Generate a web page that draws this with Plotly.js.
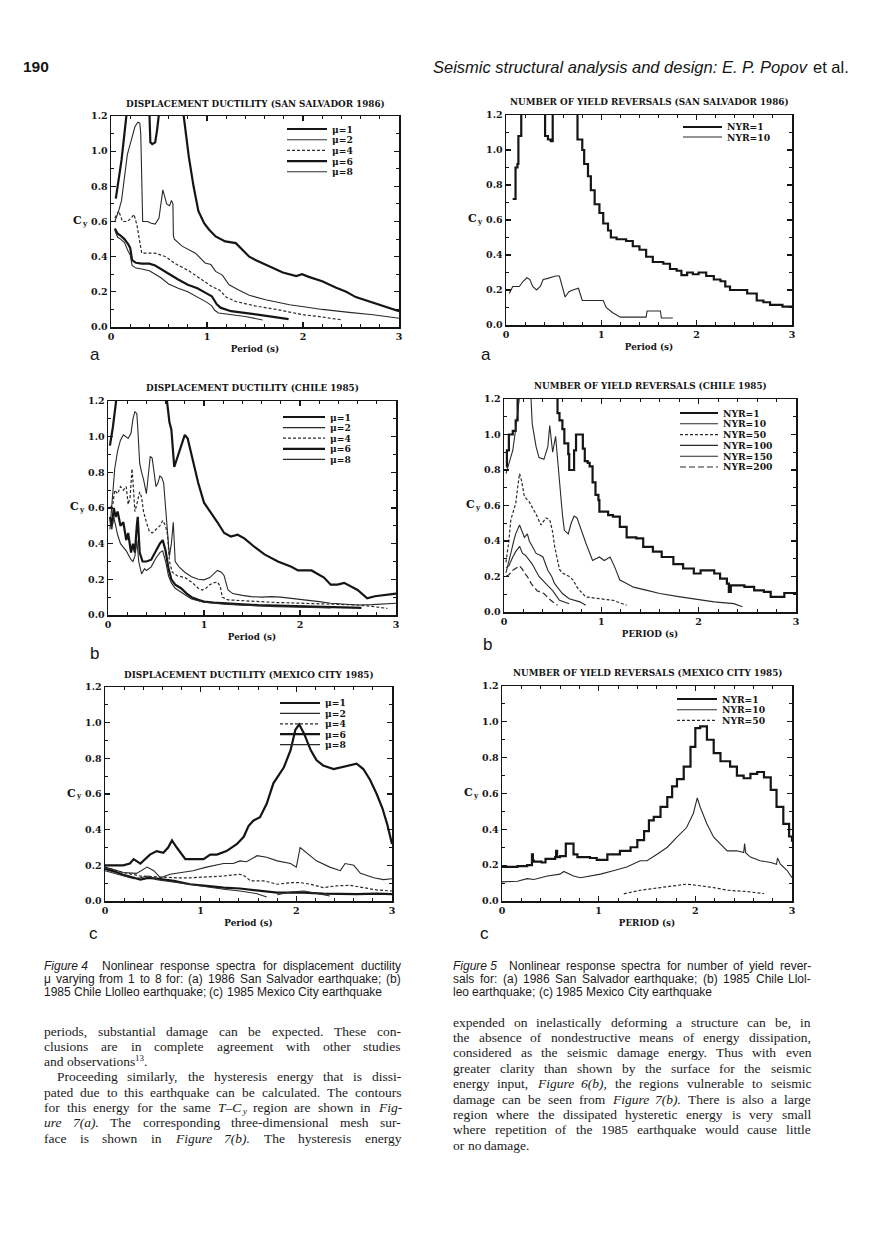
<!DOCTYPE html>
<html><head><meta charset="utf-8">
<script src="https://cdn.plot.ly/plotly-3.0.1.min.js"></script>
<style>html,body{margin:0;padding:0;background:#fff}#page{width:876px;height:1254px}</style>
</head><body><div id="page"></div>
<script>
// ---------------- DATA ----------------
// Figure 4(a) San Salvador 1986 – displacement ductility
const ss_mu1_x = [0.05,0.08,0.11,0.14,0.17,0.25,0.38,0.40,0.41,0.43,0.46,0.48,0.50,0.55,0.70,0.75,0.78,0.81,0.86,0.91,0.97,1.02,1.09,1.19,1.30,1.37,1.44,1.51,1.65,1.79,1.93,1.99,2.06,2.20,2.34,2.45,2.55,2.69,2.83,3.00];
const ss_mu1_y = [0.73,0.84,0.95,1.10,1.25,1.45,1.40,1.22,1.05,1.04,1.05,1.12,1.25,1.45,1.45,1.22,1.08,0.97,0.80,0.66,0.59,0.555,0.515,0.487,0.477,0.44,0.40,0.38,0.345,0.31,0.29,0.30,0.285,0.26,0.225,0.20,0.17,0.145,0.12,0.09];
const ss_mu2_x = [0.04,0.08,0.11,0.14,0.17,0.21,0.25,0.28,0.30,0.31,0.32,0.33,0.38,0.42,0.46,0.50,0.52,0.54,0.56,0.58,0.61,0.63,0.645,0.65,0.66,0.74,0.88,0.98,1.04,1.09,1.16,1.23,1.33,1.44,1.61,1.86,1.99,2.20,2.48,2.73,3.00];
const ss_mu2_y = [0.60,0.66,0.72,0.85,0.98,1.06,1.14,1.165,1.16,1.10,0.85,0.60,0.60,0.59,0.585,0.62,0.70,0.78,0.74,0.70,0.69,0.72,0.70,0.52,0.50,0.46,0.42,0.364,0.355,0.316,0.295,0.24,0.21,0.18,0.155,0.127,0.117,0.10,0.083,0.07,0.05];
const ss_mu4_x = [0.04,0.08,0.12,0.17,0.21,0.24,0.27,0.30,0.32,0.40,0.46,0.57,0.67,0.81,0.95,1.05,1.13,1.20,1.30,1.50,1.72,2.00,2.20,2.41];
const ss_mu4_y = [0.62,0.66,0.60,0.60,0.62,0.64,0.58,0.48,0.42,0.42,0.42,0.40,0.36,0.32,0.27,0.23,0.21,0.17,0.145,0.12,0.10,0.07,0.057,0.04];
const ss_mu6_x = [0.04,0.07,0.10,0.14,0.18,0.20,0.22,0.26,0.32,0.40,0.46,0.52,0.60,0.70,0.80,0.90,1.00,1.05,1.10,1.14,1.25,1.40,1.60,1.85];
const ss_mu6_y = [0.56,0.53,0.52,0.50,0.47,0.45,0.38,0.365,0.36,0.36,0.35,0.33,0.30,0.27,0.24,0.22,0.19,0.175,0.13,0.11,0.09,0.08,0.065,0.045];
const ss_mu8_x = [0.04,0.07,0.10,0.14,0.18,0.20,0.22,0.26,0.32,0.40,0.46,0.52,0.60,0.70,0.80,0.90,1.00,1.05,1.08,1.12,1.25,1.40,1.58];
const ss_mu8_y = [0.55,0.51,0.50,0.48,0.43,0.41,0.35,0.335,0.33,0.32,0.30,0.28,0.245,0.22,0.20,0.17,0.14,0.12,0.095,0.08,0.07,0.06,0.04];

// Figure 5(a) San Salvador 1986 – number of yield reversals
const ss_nyr1_x = [0.07,0.10,0.12,0.13,0.16,0.41,0.44,0.47,0.49,0.75,0.80,0.82,0.86,0.89,0.93,0.98,1.02,1.07,1.10,1.16,1.26,1.33,1.40,1.47,1.54,1.65,1.72,1.79,1.84,1.90,1.96,2.02,2.10,2.18,2.25,2.30,2.35,2.45,2.53,2.63,2.70,2.77,2.90,3.00];
const ss_nyr1_y = [0.72,0.90,0.92,1.08,1.40,1.08,1.06,1.05,1.40,1.06,1.00,0.92,0.85,0.77,0.69,0.64,0.58,0.54,0.50,0.49,0.48,0.45,0.43,0.39,0.36,0.35,0.32,0.31,0.285,0.30,0.29,0.30,0.28,0.26,0.25,0.22,0.20,0.20,0.18,0.14,0.13,0.115,0.105,0.10];
const ss_nyr10_x = [0.035,0.07,0.14,0.18,0.22,0.25,0.28,0.32,0.36,0.39,0.43,0.47,0.52,0.56,0.60,0.62,0.66,0.70,0.76,0.78,0.80,1.02,1.05,1.12,1.20,1.47,1.48,1.62,1.63,1.75];
const ss_nyr10_y = [0.18,0.22,0.22,0.25,0.27,0.26,0.22,0.20,0.22,0.26,0.265,0.27,0.28,0.28,0.20,0.16,0.19,0.20,0.21,0.17,0.14,0.14,0.10,0.07,0.045,0.045,0.08,0.08,0.04,0.04];

// Figure 4(b) Chile 1985 – displacement ductility
const ch_mu1_x = [0.02,0.05,0.08,0.10,0.15,0.58,0.61,0.64,0.66,0.69,0.72,0.75,0.78,0.80,0.83,0.88,0.94,1.00,1.08,1.14,1.21,1.28,1.35,1.42,1.53,1.63,1.77,1.91,1.98,2.05,2.12,2.25,2.32,2.39,2.46,2.60,2.70,2.78,2.85,3.00];
const ch_mu1_y = [0.95,1.05,1.18,1.30,1.50,1.50,1.22,1.08,1.04,0.83,0.88,0.93,0.98,1.01,0.99,0.87,0.74,0.63,0.57,0.52,0.46,0.44,0.45,0.43,0.38,0.34,0.30,0.27,0.25,0.25,0.25,0.21,0.17,0.17,0.18,0.14,0.094,0.105,0.11,0.12];
const ch_mu2_x = [0.02,0.05,0.07,0.10,0.13,0.16,0.19,0.21,0.24,0.26,0.28,0.30,0.31,0.33,0.35,0.37,0.40,0.42,0.44,0.46,0.48,0.50,0.52,0.54,0.56,0.58,0.60,0.62,0.64,0.66,0.68,0.70,0.74,0.80,0.87,0.94,1.00,1.06,1.10,1.14,1.18,1.21,1.25,1.30,1.40,1.49,1.60,1.70,1.80,1.90,2.00,2.10,2.20,2.32,2.45,2.60,2.75,2.90,3.00];
const ch_mu2_y = [0.48,0.70,0.82,0.92,0.98,1.01,1.00,0.99,1.02,1.10,1.14,1.13,1.05,0.85,0.80,0.76,0.68,0.80,0.89,0.88,0.80,0.72,0.74,0.78,0.77,0.74,0.60,0.45,0.33,0.40,0.52,0.30,0.27,0.24,0.215,0.20,0.197,0.21,0.23,0.25,0.24,0.22,0.14,0.12,0.11,0.103,0.10,0.103,0.10,0.094,0.09,0.084,0.075,0.066,0.06,0.056,0.058,0.062,0.066];
const ch_mu4_x = [0.02,0.05,0.07,0.10,0.13,0.16,0.19,0.21,0.23,0.25,0.26,0.28,0.30,0.33,0.35,0.37,0.40,0.43,0.46,0.50,0.54,0.57,0.60,0.62,0.64,0.67,0.72,0.80,0.87,0.94,0.98,1.02,1.06,1.10,1.14,1.17,1.19,1.25,1.40,1.56,1.75,1.90,2.10,2.25,2.45,2.60,2.75,2.91];
const ch_mu4_y = [0.60,0.62,0.70,0.68,0.72,0.70,0.72,0.62,0.66,0.82,0.75,0.58,0.62,0.69,0.66,0.58,0.52,0.47,0.46,0.48,0.50,0.53,0.50,0.45,0.30,0.24,0.22,0.21,0.185,0.15,0.14,0.15,0.17,0.18,0.185,0.16,0.10,0.085,0.08,0.075,0.07,0.068,0.065,0.065,0.06,0.056,0.048,0.037];
const ch_mu6_x = [0.02,0.04,0.06,0.08,0.10,0.13,0.16,0.19,0.21,0.24,0.26,0.28,0.30,0.31,0.33,0.36,0.40,0.45,0.50,0.54,0.57,0.60,0.63,0.66,0.70,0.76,0.82,0.87,0.94,1.00,1.10,1.21,1.40,1.56,1.75,1.90,2.10,2.30,2.45,2.64];
const ch_mu6_y = [0.55,0.50,0.60,0.55,0.58,0.50,0.52,0.42,0.46,0.35,0.40,0.35,0.50,0.55,0.35,0.30,0.30,0.31,0.36,0.40,0.42,0.36,0.26,0.20,0.17,0.15,0.12,0.10,0.085,0.075,0.07,0.065,0.06,0.055,0.052,0.05,0.048,0.045,0.043,0.04];
const ch_mu8_x = [0.02,0.04,0.06,0.08,0.10,0.13,0.16,0.19,0.21,0.24,0.26,0.28,0.30,0.32,0.35,0.38,0.40,0.45,0.50,0.54,0.57,0.60,0.63,0.66,0.70,0.76,0.82,0.87,0.94,1.00,1.10,1.21,1.40,1.56,1.75,1.90,2.10,2.32];
const ch_mu8_y = [0.53,0.48,0.55,0.50,0.45,0.40,0.38,0.36,0.34,0.31,0.30,0.33,0.42,0.30,0.23,0.26,0.25,0.27,0.32,0.35,0.36,0.30,0.22,0.18,0.15,0.13,0.11,0.09,0.08,0.072,0.066,0.06,0.055,0.05,0.047,0.045,0.043,0.04];

// Figure 5(b) Chile 1985 – number of yield reversals
const ch_nyr1_x = [0.02,0.03,0.05,0.09,0.12,0.14,0.55,0.57,0.60,0.62,0.66,0.67,0.72,0.74,0.78,0.81,0.83,0.86,0.88,0.91,0.94,0.97,0.98,1.07,1.12,1.19,1.26,1.36,1.43,1.53,1.62,1.74,1.84,1.95,2.02,2.09,2.16,2.22,2.29,2.31,2.33,2.38,2.47,2.57,2.67,2.74,2.81,2.88,3.00];
const ch_nyr1_y = [0.82,0.91,1.00,1.02,1.08,1.40,1.12,1.08,1.03,0.95,0.89,0.80,0.91,1.00,1.00,0.92,0.85,0.84,0.82,0.73,0.66,0.63,0.565,0.546,0.537,0.48,0.42,0.415,0.367,0.34,0.31,0.27,0.245,0.217,0.235,0.235,0.217,0.188,0.16,0.113,0.15,0.15,0.141,0.122,0.113,0.085,0.085,0.107,0.107];
const ch_nyr10_x = [0.02,0.06,0.09,0.12,0.16,0.20,0.26,0.29,0.33,0.36,0.41,0.45,0.47,0.50,0.53,0.57,0.60,0.62,0.66,0.69,0.72,0.75,0.78,0.84,0.91,0.98,1.03,1.09,1.14,1.19,1.26,1.33,1.47,1.60,1.81,2.02,2.16,2.36,2.45];
const ch_nyr10_y = [0.78,0.85,0.91,1.03,1.18,1.40,1.40,1.06,0.93,0.87,0.86,0.93,1.05,0.90,0.99,0.73,0.55,0.46,0.44,0.50,0.54,0.53,0.48,0.39,0.29,0.31,0.29,0.31,0.25,0.18,0.16,0.14,0.122,0.104,0.085,0.066,0.057,0.047,0.03];
const ch_nyr50_x = [0.02,0.05,0.07,0.10,0.12,0.14,0.16,0.18,0.21,0.26,0.33,0.38,0.43,0.47,0.50,0.52,0.55,0.57,0.60,0.64,0.67,0.71,0.75,0.78,0.84,0.98,1.12,1.26];
const ch_nyr50_y = [0.28,0.40,0.52,0.58,0.61,0.70,0.78,0.74,0.65,0.62,0.55,0.49,0.53,0.52,0.45,0.37,0.29,0.24,0.22,0.21,0.20,0.18,0.14,0.12,0.085,0.075,0.066,0.038];
const ch_nyr100_x = [0.02,0.05,0.07,0.10,0.12,0.16,0.19,0.21,0.24,0.26,0.30,0.33,0.37,0.40,0.45,0.49,0.52,0.56,0.60,0.67,0.78,0.84];
const ch_nyr100_y = [0.22,0.28,0.33,0.40,0.44,0.49,0.45,0.42,0.44,0.40,0.36,0.33,0.32,0.31,0.235,0.20,0.16,0.13,0.104,0.075,0.057,0.038];
const ch_nyr150_x = [0.02,0.05,0.09,0.12,0.16,0.19,0.22,0.26,0.29,0.33,0.36,0.43,0.50,0.57,0.67];
const ch_nyr150_y = [0.25,0.26,0.31,0.34,0.37,0.33,0.32,0.29,0.27,0.23,0.20,0.16,0.12,0.066,0.047];
const ch_nyr200_x = [0.02,0.05,0.09,0.13,0.16,0.19,0.21,0.24,0.28,0.34,0.41,0.48,0.55];
const ch_nyr200_y = [0.20,0.21,0.235,0.25,0.26,0.24,0.22,0.20,0.16,0.12,0.104,0.066,0.038];

// Figure 4(c) Mexico City 1985 – displacement ductility
const mx_mu1_x = [0.00,0.19,0.26,0.30,0.37,0.43,0.47,0.54,0.61,0.66,0.70,0.75,0.84,0.92,1.03,1.10,1.17,1.27,1.38,1.45,1.50,1.55,1.62,1.69,1.76,1.87,1.94,1.99,2.03,2.08,2.15,2.21,2.28,2.39,2.46,2.56,2.63,2.70,2.77,2.84,2.90,2.95,3.00];
const mx_mu1_y = [0.20,0.20,0.21,0.235,0.21,0.24,0.26,0.28,0.27,0.30,0.34,0.30,0.235,0.235,0.235,0.26,0.26,0.28,0.32,0.36,0.42,0.45,0.47,0.545,0.66,0.75,0.846,0.96,0.99,0.94,0.846,0.79,0.76,0.74,0.75,0.76,0.77,0.74,0.68,0.60,0.52,0.43,0.32];
const mx_mu2_x = [0.00,0.19,0.33,0.44,0.51,0.58,0.68,0.78,0.92,1.06,1.24,1.34,1.41,1.48,1.59,1.69,1.80,1.94,2.00,2.04,2.11,2.21,2.35,2.46,2.51,2.60,2.67,2.81,2.91,3.00];
const mx_mu2_y = [0.19,0.16,0.155,0.19,0.17,0.13,0.15,0.16,0.17,0.19,0.21,0.21,0.225,0.22,0.254,0.245,0.225,0.21,0.19,0.30,0.27,0.225,0.19,0.17,0.21,0.20,0.155,0.13,0.12,0.125];
const mx_mu4_x = [0.00,0.19,0.37,0.54,0.75,0.89,1.06,1.24,1.41,1.46,1.52,1.66,1.80,1.94,2.04,2.15,2.28,2.42,2.56,2.70,2.84,3.00];
const mx_mu4_y = [0.19,0.16,0.14,0.135,0.13,0.13,0.135,0.14,0.15,0.14,0.113,0.113,0.094,0.103,0.103,0.094,0.075,0.085,0.088,0.075,0.062,0.056];
const mx_mu6_x = [0.00,0.10,0.19,0.30,0.37,0.45,0.54,0.72,0.89,1.06,1.24,1.41,1.59,1.80,2.08,2.28,2.63,2.84,3.00];
const mx_mu6_y = [0.18,0.165,0.147,0.13,0.12,0.13,0.126,0.113,0.094,0.085,0.075,0.07,0.06,0.047,0.047,0.041,0.038,0.041,0.038];
const mx_mu8_x = [0.00,0.10,0.19,0.30,0.37,0.45,0.54,0.72,0.89,1.06,1.24,1.41,1.59,1.69,null,1.80,1.94,2.08,2.20,2.35];
const mx_mu8_y = [0.17,0.155,0.14,0.125,0.13,0.14,0.12,0.105,0.09,0.08,0.066,0.056,0.041,0.022,null,0.035,0.05,0.056,0.045,0.028];

// Figure 5(c) Mexico City 1985 – number of yield reversals
const mx_nyr1_x = [0.00,0.16,0.26,0.31,0.32,0.33,0.41,0.45,0.55,0.56,0.57,0.60,0.66,0.69,0.74,0.78,0.91,0.98,1.09,1.22,1.33,1.40,1.47,1.52,1.57,1.64,1.71,1.76,1.81,1.88,1.95,2.00,2.05,2.12,2.19,2.26,2.36,2.43,2.50,2.57,2.64,2.71,2.78,2.84,2.91,2.97,3.00];
const mx_nyr1_y = [0.19,0.195,0.20,0.26,0.225,0.22,0.215,0.235,0.245,0.28,0.245,0.25,0.32,0.32,0.26,0.245,0.24,0.23,0.26,0.28,0.30,0.34,0.39,0.45,0.47,0.525,0.58,0.64,0.68,0.75,0.86,0.965,0.975,0.90,0.825,0.78,0.75,0.70,0.685,0.71,0.72,0.69,0.62,0.525,0.43,0.36,0.33];
const mx_nyr10_x = [0.00,0.16,0.26,0.33,0.47,0.60,0.64,0.74,0.81,0.91,1.02,1.16,1.29,1.43,1.50,1.60,1.71,1.81,1.91,1.98,2.02,2.05,2.12,2.19,2.26,2.33,2.43,2.50,2.51,2.52,2.57,2.67,2.78,2.84,2.85,2.88,2.95,3.00];
const mx_nyr10_y = [0.107,0.11,0.125,0.12,0.14,0.15,0.165,0.14,0.13,0.14,0.15,0.17,0.19,0.225,0.225,0.26,0.30,0.356,0.41,0.49,0.575,0.525,0.43,0.356,0.32,0.28,0.28,0.27,0.32,0.27,0.245,0.225,0.215,0.205,0.24,0.205,0.17,0.13];
const mx_nyr50_x = [1.26,1.43,1.64,1.84,1.91,2.05,2.19,2.33,2.53,2.71];
const mx_nyr50_y = [0.04,0.06,0.075,0.088,0.094,0.085,0.075,0.06,0.053,0.041];

// Tick values
const xTicks = [0, 1, 2, 3];
const yTicks = [0, 0.2, 0.4, 0.6, 0.8, 1.0, 1.2];

// Text content
const headerLeft = '190';
const headerRightItalic = 'Seismic structural analysis and design: E. P. Popov';
const headerRightPlain = 'et al.';
const captionLeft = [
  '<i>Figure\u00a04</i>  Nonlinear response spectra for displacement ductility',
  'μ varying from 1 to 8 for: (a) 1986 San Salvador earthquake; (b)',
  '1985 Chile Llolleo earthquake; (c) 1985 Mexico City earthquake'
];
const captionRight = [
  '<i>Figure\u00a05</i>  Nonlinear response spectra for number of yield rever-',
  'sals for: (a) 1986 San Salvador earthquake; (b) 1985 Chile Llol-',
  'leo earthquake; (c) 1985 Mexico City earthquake'
];
const bodyLeft = [
  'periods, substantial damage can be expected. These con-',
  'clusions are in complete agreement with other studies',
  'and observations<sup>13</sup>.',
  'Proceeding similarly, the hysteresis energy that is dissi-',
  'pated due to this earthquake can be calculated. The contours',
  'for this energy for the same <i>T–C<sub>y</sub></i> region are shown in <i>Fig-</i>',
  '<i>ure</i> <i>7(a)</i>. The corresponding three-dimensional mesh sur-',
  'face is shown in <i>Figure</i> <i>7(b)</i>. The hysteresis energy'
];
const bodyRight = [
  'expended on inelastically deforming a structure can be, in',
  'the absence of nondestructive means of energy dissipation,',
  'considered as the seismic damage energy. Thus with even',
  'greater clarity than shown by the surface for the seismic',
  'energy input, <i>Figure</i> <i>6(b)</i>, the regions vulnerable to seismic',
  'damage can be seen from <i>Figure</i> <i>7(b)</i>. There is also a large',
  'region where the dissipated hysteretic energy is very small',
  'where repetition of the 1985 earthquake would cause little',
  'or no damage.'
];

// ---------------- STYLES / LAYOUT ----------------
const W = 876, H = 1254;
const px = v => v / W, py = v => 1 - v / H;
const INK = '#151515';
const THICK = {color: INK, width: 2.2};
const THIN = {color: '#2a2a2a', width: 1.1};
const DASHED = {color: '#2a2a2a', width: 1.2, dash: '3px,2px'};
const LONGDASH = {color: '#2a2a2a', width: 1.2, dash: '6px,3px'};
const SERIF = 'DejaVu Serif';

const panels = [
  {frame: [111, 399, 116, 327], title: 'DISPLACEMENT DUCTILITY (SAN SALVADOR 1986)', titleY: 104,
   xTitle: 'Period (s)', letter: 'a', letterXY: [95, 354], legend: {x0: 287, x1: 327, y0: 129, dy: 10.7},
   series: [
     {name: 'μ=1', x: ss_mu1_x, y: ss_mu1_y, style: THICK},
     {name: 'μ=2', x: ss_mu2_x, y: ss_mu2_y, style: THIN},
     {name: 'μ=4', x: ss_mu4_x, y: ss_mu4_y, style: DASHED},
     {name: 'μ=6', x: ss_mu6_x, y: ss_mu6_y, style: THICK},
     {name: 'μ=8', x: ss_mu8_x, y: ss_mu8_y, style: THIN}]},
  {frame: [506, 792, 115, 325], title: 'NUMBER OF YIELD REVERSALS (SAN SALVADOR 1986)', titleY: 102,
   xTitle: 'Period (s)', letter: 'a', letterXY: [486, 354], legend: {x0: 683, x1: 722, y0: 127, dy: 10},
   series: [
     {name: 'NYR=1', x: ss_nyr1_x, y: ss_nyr1_y, style: THICK, shape: 'hv'},
     {name: 'NYR=10', x: ss_nyr10_x, y: ss_nyr10_y, style: THIN}]},
  {frame: [108, 396, 401, 615], title: 'DISPLACEMENT DUCTILITY (CHILE 1985)', titleY: 388,
   xTitle: 'Period (s)', letter: 'b', letterXY: [94, 653], legend: {x0: 283, x1: 325, y0: 417, dy: 10.6},
   series: [
     {name: 'μ=1', x: ch_mu1_x, y: ch_mu1_y, style: THICK},
     {name: 'μ=2', x: ch_mu2_x, y: ch_mu2_y, style: THIN},
     {name: 'μ=4', x: ch_mu4_x, y: ch_mu4_y, style: DASHED},
     {name: 'μ=6', x: ch_mu6_x, y: ch_mu6_y, style: THICK},
     {name: 'μ=8', x: ch_mu8_x, y: ch_mu8_y, style: THIN}]},
  {frame: [504, 796, 399, 612], title: 'NUMBER OF YIELD REVERSALS (CHILE 1985)', titleY: 386,
   xTitle: 'PERIOD (s)', letter: 'b', letterXY: [487, 644], legend: {x0: 680, x1: 718, y0: 413, dy: 10.8},
   series: [
     {name: 'NYR=1', x: ch_nyr1_x, y: ch_nyr1_y, style: THICK, shape: 'hv'},
     {name: 'NYR=10', x: ch_nyr10_x, y: ch_nyr10_y, style: THIN},
     {name: 'NYR=50', x: ch_nyr50_x, y: ch_nyr50_y, style: DASHED},
     {name: 'NYR=100', x: ch_nyr100_x, y: ch_nyr100_y, style: THIN},
     {name: 'NYR=150', x: ch_nyr150_x, y: ch_nyr150_y, style: THIN},
     {name: 'NYR=200', x: ch_nyr200_x, y: ch_nyr200_y, style: LONGDASH}]},
  {frame: [105, 392, 687, 901], title: 'DISPLACEMENT DUCTILITY (MEXICO CITY 1985)', titleY: 675,
   xTitle: 'Period (s)', letter: 'c', letterXY: [93, 933], legend: {x0: 280, x1: 320, y0: 703, dy: 10.4},
   series: [
     {name: 'μ=1', x: mx_mu1_x, y: mx_mu1_y, style: THICK},
     {name: 'μ=2', x: mx_mu2_x, y: mx_mu2_y, style: THIN},
     {name: 'μ=4', x: mx_mu4_x, y: mx_mu4_y, style: DASHED},
     {name: 'μ=6', x: mx_mu6_x, y: mx_mu6_y, style: THICK},
     {name: 'μ=8', x: mx_mu8_x, y: mx_mu8_y, style: THIN}]},
  {frame: [502, 792, 686, 901], title: 'NUMBER OF YIELD REVERSALS (MEXICO CITY 1985)', titleY: 673,
   xTitle: 'PERIOD (s)', letter: 'c', letterXY: [485, 933], legend: {x0: 677, x1: 717, y0: 699, dy: 10.7},
   series: [
     {name: 'NYR=1', x: mx_nyr1_x, y: mx_nyr1_y, style: THICK, shape: 'hv'},
     {name: 'NYR=10', x: mx_nyr10_x, y: mx_nyr10_y, style: THIN},
     {name: 'NYR=50', x: mx_nyr50_x, y: mx_nyr50_y, style: DASHED}]}
];

const traces = [];
const annotations = [];
const shapes = [];
const layout = {
  width: W, height: H, margin: {l: 0, r: 0, t: 0, b: 0},
  paper_bgcolor: '#fff', plot_bgcolor: '#fff', showlegend: false,
  font: {family: SERIF, color: INK}
};

const boldSerif = size => ({family: SERIF, size: size, weight: 'bold', color: INK});

// ---------- text helpers (measured with canvas; sub/sup drawn as separate small texts) ----------
const ctx = document.createElement('canvas').getContext('2d');
function cssFont(f, size) {
  return (f.style === 'italic' ? 'italic ' : '') + (f.weight === 'bold' ? 'bold ' : '') + size + 'px "' + f.family + '"';
}
function measure(txt, f, size) { ctx.font = cssFont(f, size); return ctx.measureText(txt).width; }
function segments(text) {
  return text.split(/(<su[bp]>.*?<\/su[bp]>)/).filter(s => s !== '').map(s => {
    const m = s.match(/^<(su[bp])>(.*)<\/su[bp]>$/);
    return m ? {t: m[2], kind: m[1]} : {t: s, kind: 'n'};
  });
}
const SUBSCALE = 0.66;
function tokenWidth(text, f) {
  return segments(text).reduce((a, sg) => a + measure(sg.t, f, sg.kind === 'n' ? f.size : f.size * SUBSCALE), 0);
}
function drawToken(text, x, y, f) {
  let cx = x;
  segments(text).forEach(sg => {
    const sz = sg.kind === 'n' ? f.size : f.size * SUBSCALE;
    const dy = sg.kind === 'sub' ? f.size * 0.27 : (sg.kind === 'sup' ? -f.size * 0.24 : 0);
    const ff = Object.assign({}, f, {size: sz});
    annotations.push({text: sg.t, xref: 'paper', yref: 'paper', x: px(cx), y: py(y + dy),
      xanchor: 'left', yanchor: 'middle', showarrow: false, borderpad: 0, font: ff});
    cx += measure(sg.t, f, sz);
  });
  return cx - x;
}

panels.forEach((p, i) => {
  const n = i === 0 ? '' : String(i + 1);
  const [l, r, t, b] = p.frame;
  const common = {
    ticks: 'inside', ticklen: 5, tickwidth: 1.2, tickcolor: INK,
    mirror: 'ticks', showline: true, linecolor: INK, linewidth: 1.5,
    showgrid: false, zeroline: false, fixedrange: true,
    tickfont: boldSerif(9.5)
  };
  layout['xaxis' + n] = Object.assign({}, common, {
    domain: [px(l), px(r)], anchor: 'y' + n, range: [0, 3],
    tickmode: 'array', tickvals: xTicks, ticktext: xTicks.map(String),
    minor: {dtick: 0.2, tick0: 0, ticks: 'inside', ticklen: 3, tickwidth: 1, tickcolor: INK},
    title: {text: p.xTitle, font: boldSerif(8.8), standoff: 5}
  });
  layout['yaxis' + n] = Object.assign({}, common, {
    domain: [py(b), py(t)], anchor: 'x' + n, range: [0, 1.2],
    tickmode: 'array', tickvals: yTicks, ticktext: yTicks.map(v => v.toFixed(1)),
    minor: {dtick: 0.1, tick0: 0, ticks: 'inside', ticklen: 3, tickwidth: 1, tickcolor: INK}
  });
  p.series.forEach(s => {
    traces.push({
      type: 'scatter', mode: 'lines', name: s.name, x: s.x, y: s.y,
      xaxis: 'x' + n, yaxis: 'y' + n, hoverinfo: 'skip', showlegend: false,
      connectgaps: false,
      line: Object.assign({shape: s.shape || 'linear'}, s.style)
    });
  });
  annotations.push({text: p.title, xref: 'paper', yref: 'paper', x: px((l + r) / 2), y: py(p.titleY),
    xanchor: 'center', yanchor: 'middle', showarrow: false, font: boldSerif(8.8)});
  // C_y label at the level of 0.6, ending well clear of the tick label
  const cyFont = boldSerif(11);
  drawToken('C<sub>y</sub>', l - 39, (t + b) / 2 - 1, cyFont);
  annotations.push({text: p.letter, xref: 'paper', yref: 'paper', x: px(p.letterXY[0]), y: py(p.letterXY[1]),
    xanchor: 'center', yanchor: 'middle', showarrow: false,
    font: {family: 'Liberation Sans', size: 17, color: INK}});
  p.series.forEach((s, k) => {
    const yy = p.legend.y0 + k * p.legend.dy;
    shapes.push({type: 'line', xref: 'paper', yref: 'paper', x0: px(p.legend.x0), x1: px(p.legend.x1),
      y0: py(yy), y1: py(yy), line: {color: s.style.color, width: s.style.width, dash: s.style.dash || 'solid'}});
    annotations.push({text: s.name, xref: 'paper', yref: 'paper', x: px(p.legend.x1 + 4), y: py(yy),
      xanchor: 'left', yanchor: 'middle', showarrow: false, borderpad: 0, font: boldSerif(9.2)});
  });
});

// ---------------- running text (justified) ----------------
function splitItalic(tk) {
  const m = tk.match(/^<i>(.*)<\/i>([.,;:]?)$/);
  if (m) return {text: m[1] + m[2], italic: true};
  return {text: tk, italic: false};
}
function placeLine(str, x0, x1, y, o) {
  const tokens = str.split(' ').map(splitItalic);
  const start = x0 + (o.indent || 0);
  let size = o.size, widths, spaceW, total, fonts;
  for (let it = 0; it < 20; it++) {
    fonts = tokens.map(tk => ({family: o.family, size: size, color: '#1a1a1a', style: tk.italic ? 'italic' : 'normal'}));
    widths = tokens.map((tk, k) => tk.text === '' ? 0 : tokenWidth(tk.text, fonts[k]));
    spaceW = measure(' ', {family: o.family}, size);
    total = widths.reduce((a, c) => a + c, 0);
    if (!o.justify || tokens.length < 2) break;
    if ((x1 - start - total) / (tokens.length - 1) >= spaceW * 0.7) break;
    size -= 0.15;
  }
  let gap = spaceW;
  if (o.justify && tokens.length > 1) gap = (x1 - start - total) / (tokens.length - 1);
  let x = start;
  tokens.forEach((tk, k) => {
    if (tk.text !== '') drawToken(tk.text, x, y, fonts[k]);
    x += widths[k] + gap;
  });
}

// header
annotations.push({text: headerLeft, xref: 'paper', yref: 'paper', x: px(22), y: py(67),
  xanchor: 'left', yanchor: 'middle', showarrow: false, borderpad: 0,
  font: {family: 'Liberation Sans', size: 15.5, weight: 'bold', color: INK}});
const hdrFont = {family: 'Liberation Sans', size: 16.5, color: INK};
const plainW = measure(headerRightPlain, hdrFont, hdrFont.size);
const hdrSpace = measure(' ', hdrFont, hdrFont.size);
annotations.push({text: headerRightPlain, xref: 'paper', yref: 'paper', x: px(850), y: py(67),
  xanchor: 'right', yanchor: 'middle', showarrow: false, borderpad: 0, font: hdrFont});
annotations.push({text: headerRightItalic, xref: 'paper', yref: 'paper', x: px(850 - plainW - hdrSpace), y: py(67),
  xanchor: 'right', yanchor: 'middle', showarrow: false, borderpad: 0,
  font: Object.assign({}, hdrFont, {style: 'italic'})});

// captions
const capOpt = {family: 'Liberation Sans', size: 12};
captionLeft.forEach((s, k) => placeLine(s, 43, 400, 966 + k * 12.9, Object.assign({justify: k < 2}, capOpt)));
captionRight.forEach((s, k) => placeLine(s, 452, 810, 966 + k * 12.9, Object.assign({justify: k < 2}, capOpt)));

// body text
const bodyOpt = {family: 'Liberation Serif', size: 13.5};
bodyLeft.forEach((s, k) => placeLine(s, 43, 400, 1031 + k * 15.3,
  Object.assign({justify: k !== 2, indent: k === 3 ? 13 : 0}, bodyOpt)));
bodyRight.forEach((s, k) => placeLine(s, 452, 810, 1022 + k * 15.4,
  Object.assign({justify: k !== bodyRight.length - 1}, bodyOpt)));

layout.annotations = annotations;
layout.shapes = shapes;

Plotly.newPlot('page', traces, layout, {staticPlot: true, displayModeBar: false});
</script></body></html>
